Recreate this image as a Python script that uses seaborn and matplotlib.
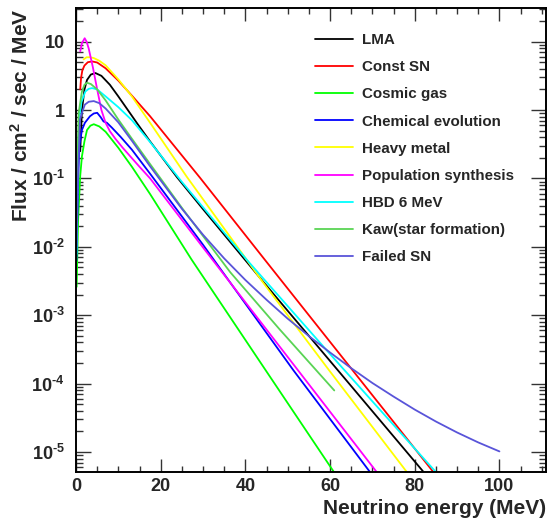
import matplotlib
matplotlib.use("Agg")
import matplotlib.pyplot as plt
import matplotlib.ticker as mticker
import seaborn as sns
import pandas as pd

# Relic SN neutrino flux curves
lma_x = [1.0, 1.4, 2.0, 2.6, 3.5, 4.6, 6.0, 8.0, 10.0, 12.0, 14.5, 17.5, 23.8, 30.0, 44.2, 60.0, 83.0]
lma_y = [0.25, 1.0, 2.0, 2.75, 3.3, 3.47, 3.16, 2.34, 1.58, 1.05, 0.63, 0.347, 0.105, 0.0355, 3.09e-3, 2.14e-4, 4.37e-6]

const_x = [1.0, 1.2, 1.5, 2.0, 2.8, 3.8, 5.0, 7.0, 10.0, 13.2, 17.5, 29.3, 44.6, 65.0, 85.0]
const_y = [2.0, 2.95, 3.8, 4.47, 5.0, 5.13, 4.95, 4.07, 2.69, 1.62, 0.81, 0.102, 6.46e-3, 1.66e-4, 4.57e-6]

cosmic_x = [0.15, 0.5, 1.0, 1.4, 2.0, 2.6, 3.4, 4.2, 5.5, 7.0, 10.0, 13.2, 17.5, 27.3, 45.0, 61.5]
cosmic_y = [2.6e-3, 0.025, 0.11, 0.21, 0.35, 0.51, 0.59, 0.62, 0.575, 0.48, 0.28, 0.148, 0.059, 6.5e-3, 1.5e-4, 4.5e-6]

chem_x = [0.1, 0.5, 0.8, 1.4, 2.1, 3.3, 4.2, 5.0, 5.8, 6.5, 7.3, 8.5, 10.5, 13.2, 17.5, 30.0, 51.3, 70.0]
chem_y = [6.3e-3, 0.1, 0.30, 0.51, 0.65, 0.81, 0.89, 0.91, 0.79, 0.68, 0.65, 0.55, 0.407, 0.263, 0.117, 0.0107, 1.58e-4, 4.57e-6]

heavy_x = [1.8, 2.5, 3.3, 4.2, 5.5, 7.0, 10.0, 13.2, 17.5, 26.1, 44.2, 60.0, 78.8]
heavy_y = [5.5, 5.9, 5.9, 5.75, 5.25, 4.5, 2.8, 1.58, 0.65, 0.107, 3.0e-3, 1.5e-4, 4.5e-6]

popsyn_x = [1.0, 1.4, 2.05, 2.5, 3.0, 4.0, 5.0, 6.0, 7.0, 8.0, 9.3, 11.0, 13.0, 15.0, 17.5, 30.0, 50.0, 71.6]
popsyn_y = [7.2, 9.5, 11.2, 10.0, 7.94, 4.17, 2.0, 1.0, 0.646, 0.49, 0.38, 0.282, 0.204, 0.148, 0.10, 9.77e-3, 2.45e-4, 4.57e-6]

hbd_x = [0.1, 0.4, 0.8, 1.3, 2.2, 3.0, 3.8, 5.0, 7.0, 10.0, 13.2, 17.5, 25.0, 40.3, 60.0, 77.2, 85.5]
hbd_y = [7.8e-3, 0.126, 0.81, 1.32, 1.86, 2.04, 2.09, 2.0, 1.58, 1.10, 0.71, 0.34, 0.089, 6.5e-3, 2.7e-4, 1.75e-5, 4.7e-6]

kaw_x = [0.1, 0.3, 0.63, 1.4, 2.0, 2.6, 3.5, 5.0, 7.0, 10.0, 13.2, 17.5, 25.0, 36.4, 48.0, 61.0]
kaw_y = [0.025, 0.16, 0.91, 1.86, 2.34, 2.5, 2.4, 2.0, 1.38, 0.724, 0.38, 0.162, 0.0372, 4.27e-3, 6.3e-4, 7.94e-5]

failed_x = [0.1, 0.5, 0.95, 1.5, 2.1, 3.0, 4.2, 5.5, 7.0, 10.0, 13.2, 17.5, 25.0, 30.0, 35.0, 40.0,
            45.0, 50.0, 55.0, 60.0, 65.0, 70.0, 75.0, 80.0, 85.0, 90.0, 95.0, 100.0]
failed_y = [0.01, 0.126, 0.72, 0.95, 1.2, 1.32, 1.35, 1.26, 1.05, 0.66, 0.355, 0.15, 0.036, 1.5e-2, 6.76e-3, 3.27e-3,
            1.68e-3, 8.9e-4, 4.95e-4, 2.85e-4, 1.68e-4, 1.02e-4, 6.46e-5, 4.17e-5, 2.79e-5, 1.93e-5, 1.38e-5, 1.02e-5]

models = ["LMA", "Const SN", "Cosmic gas", "Chemical evolution", "Heavy metal",
          "Population synthesis", "HBD 6 MeV", "Kaw(star formation)", "Failed SN"]
series = [(lma_x, lma_y), (const_x, const_y), (cosmic_x, cosmic_y), (chem_x, chem_y),
          (heavy_x, heavy_y), (popsyn_x, popsyn_y), (hbd_x, hbd_y), (kaw_x, kaw_y),
          (failed_x, failed_y)]
colors = ["#000000", "#ff0000", "#00ff00", "#0000ff", "#ffff00",
          "#ff00ff", "#00ffff", "#59d454", "#5954d9"]

y_ticks = [1e-5, 1e-4, 1e-3, 1e-2, 1e-1, 1, 10]
y_ticklabels = [r"$10^{\text{-5}}$", r"$10^{\text{-4}}$", r"$10^{\text{-3}}$",
                r"$10^{\text{-2}}$", r"$10^{\text{-1}}$", "1", "10"]
x_ticks = [0, 20, 40, 60, 80, 100]

# long-form table for seaborn
rows = []
for name, (xs, ys) in zip(models, series):
    for x, y in zip(xs, ys):
        rows.append({"model": name, "energy": x, "flux": y})
df = pd.DataFrame(rows)

sns.set_theme(style="ticks")
plt.rcParams["font.family"] = ["Liberation Sans", "DejaVu Sans"]
plt.rcParams["font.weight"] = "bold"
plt.rcParams["mathtext.fontset"] = "custom"
plt.rcParams["mathtext.rm"] = "Liberation Sans:bold"
plt.rcParams["mathtext.it"] = "Liberation Sans:bold"
plt.rcParams["mathtext.bf"] = "Liberation Sans:bold"

fig = plt.figure(figsize=(5.48, 5.2), dpi=100)
ax = fig.add_axes([76 / 548, 48 / 520, 470 / 548, 464 / 520])

sns.lineplot(data=df, x="energy", y="flux", hue="model", hue_order=models,
             palette=dict(zip(models, colors)), estimator=None, sort=False,
             linewidth=1.3, ax=ax)

ax.set_yscale("log")
ax.set_xlim(0, 111)
ax.set_ylim(5.1e-6, 31)
ax.set_xticks(x_ticks)
ax.set_xticklabels([str(t) for t in x_ticks])
ax.xaxis.set_minor_locator(mticker.MultipleLocator(5))
ax.set_yticks(y_ticks)
ax.set_yticklabels(y_ticklabels)
ax.yaxis.set_minor_locator(mticker.LogLocator(base=10, subs=range(2, 10), numticks=20))
ax.yaxis.set_minor_formatter(mticker.NullFormatter())

for s in ax.spines.values():
    s.set_linewidth(1.4)
    s.set_color("black")
ax.tick_params(which="both", direction="in", top=True, right=True, width=1.0, color="#333333")
ax.tick_params(axis="x", which="major", length=9.4, labelsize=13, pad=4)
ax.tick_params(axis="x", which="minor", length=4.5)
ax.tick_params(axis="y", which="major", length=10.8, labelsize=13, pad=8)
ax.tick_params(axis="y", which="minor", length=5.2)

ax.set_xlabel("Neutrino energy (MeV)", loc="right", fontsize=15, fontweight="bold")
ax.set_ylabel("Flux / cm$^2$ / sec / MeV", loc="top", fontsize=15, fontweight="bold")
ax.xaxis.set_label_coords(1.0, -0.058)
ax.yaxis.set_label_coords(-0.094, 1.0)

leg = ax.legend(loc="upper left", bbox_to_anchor=(315 / 548, 1 - 33 / 520),
                bbox_transform=fig.transFigure, frameon=False, fontsize=10.9,
                handlelength=2.5, handletextpad=0.6, labelspacing=0.87, borderpad=0,
                borderaxespad=0)
for line in leg.get_lines():
    line.set_linewidth(1.3)
for t in leg.get_texts():
    t.set_fontweight("bold")

fig.savefig("out.png", dpi=100)
